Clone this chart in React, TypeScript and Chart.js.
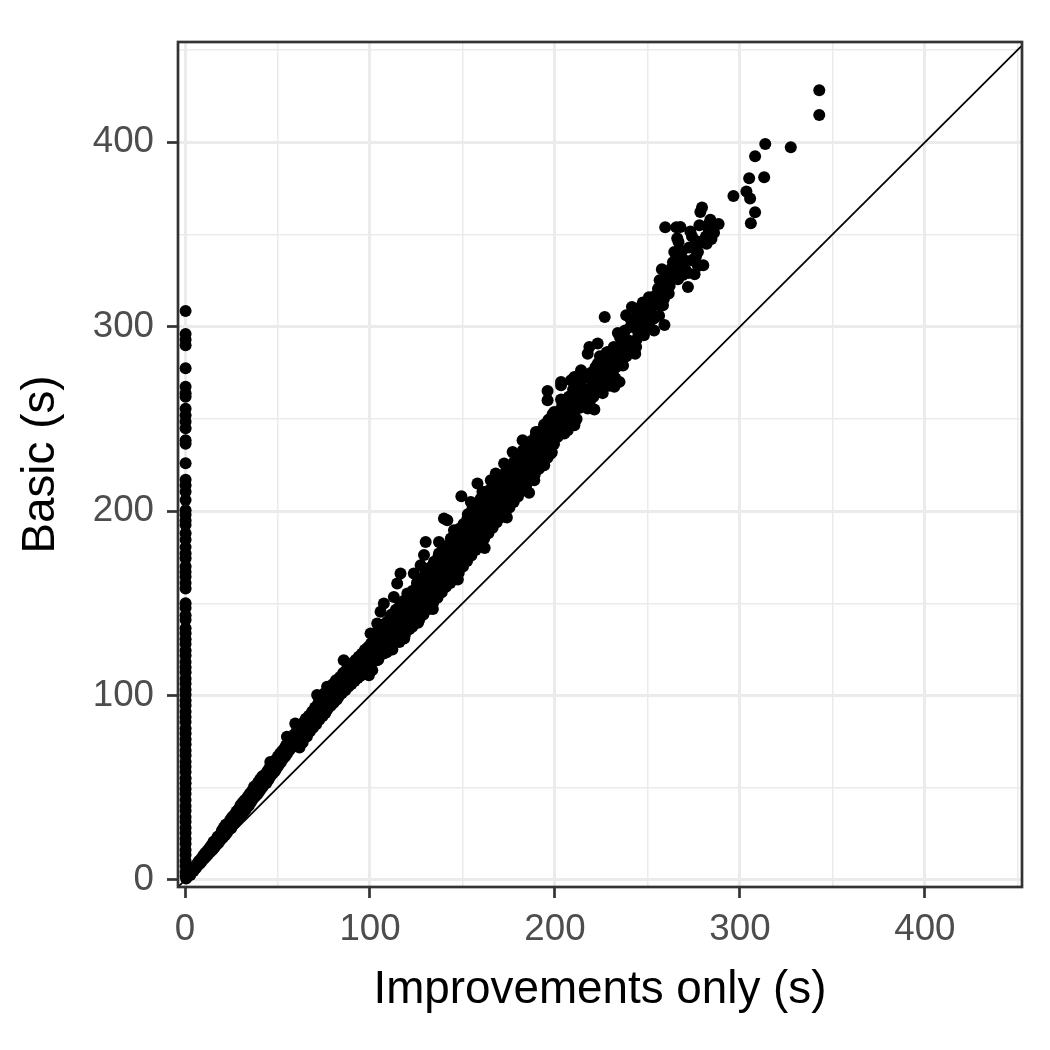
import React, { useEffect, useRef } from "react";
import { Chart, registerables } from "chart.js";

Chart.register(...registerables);

// Axis ranges and tick labels
const axisMin = -3.8;
const xAxisMax = 452.5;
const yAxisMax = 454.4;
const tickStep = 50;
const majorTicks = [0, 100, 200, 300, 400];

const xTitle = "Improvements only (s)";
const yTitle = "Basic (s)";

// Runs where the improved version took ~0 s (vertical strip at x = 0)
const zeroStripBasic = [
  308.5, 296, 293, 290, 277.5, 267.5, 264, 262, 255.5, 252, 248.5, 245, 238.5, 236.5, 226, 217, 214, 210.5,
  206, 200.5, 198, 195, 192.5, 188, 184.5, 180.5, 177, 174.5, 170, 167, 164.5, 161, 158, 150, 147.5, 143.5,
  141, 136.5, 133.8, 130.6, 127.9, 124.4, 121.7, 118.2, 115.3, 112.6, 109.1, 106.4, 103.2, 100.5, 97.3, 94.6,
  91.2, 88.4, 85.7, 82.1, 79.5, 76.3, 73.6, 70.2, 67.5, 64.1, 61.4, 58.6, 55.2, 52.5, 49.3, 46.7, 43.4, 40.1,
  37.5, 34.2, 31.6, 28.3, 25.5, 22.4, 19.7, 16.2, 13.5, 10.3, 7.6, 4.4, 2.1,
];
const zeroStripImproved = 0.3;

// [improvements only, basic] pairs – low part of the main band
const lowBand: [number, number][] = [
  [0.6, 0.8], [1.2, 1.9], [1.8, 2.6], [2.4, 3.8], [2.9, 2.7], [3.5, 4.9], [4.1, 5.8], [4.6, 4.9], [5.2, 7.1],
  [5.8, 6.3], [6.3, 8.6], [6.9, 7.8], [7.4, 10.2], [8.1, 8.9], [8.6, 11.4], [9.2, 10.3], [9.8, 13.1], [10.4, 11.6],
  [10.9, 14.6], [11.5, 12.9], [12.1, 15.9], [12.6, 14.1], [13.2, 17.4], [13.8, 15.3], [14.3, 18.8], [14.9, 16.4],
  [15.4, 20.7], [15.9, 17.6], [16.5, 21.6], [17.1, 19.1], [17.6, 23.4], [18.2, 20.2], [18.8, 24.1], [19.3, 21.8],
  [19.9, 26.7], [20.4, 22.9], [21.0, 28.4], [21.6, 24.2], [22.1, 30.1], [22.7, 25.6], [23.3, 29.2], [23.8, 27.4],
  [24.4, 32.6], [24.9, 28.1], [25.5, 34.1], [26.1, 30.2], [26.6, 35.3], [27.2, 31.4], [27.8, 37.1], [28.3, 32.9],
  [28.9, 38.4], [29.4, 34.6], [30.0, 40.6], [30.6, 35.3], [31.1, 41.9], [31.7, 36.8], [32.2, 43.2], [32.8, 38.2],
  [33.4, 40.9], [33.9, 45.1], [34.5, 40.3], [35.0, 46.8], [35.6, 42.1], [36.2, 48.3], [36.7, 43.9], [37.3, 50.5],
  [37.8, 45.2], [38.4, 51.2], [39.0, 46.4], [39.5, 52.9], [40.1, 47.8], [40.6, 54.6], [41.2, 49.5], [41.8, 56.3],
  [42.3, 50.9], [42.9, 53.8], [43.4, 57.4], [44.0, 52.6], [44.6, 59.1], [45.1, 54.3], [45.7, 60.8], [46.1, 64.0],
  [46.3, 56.4], [46.8, 61.9], [47.4, 57.7], [47.9, 63.6], [48.5, 59.0], [49.1, 65.2], [49.6, 60.7], [50.2, 66.9],
  [50.7, 62.3], [51.3, 68.4], [51.8, 63.9], [52.4, 69.8], [53.0, 65.7], [53.5, 71.1], [54.1, 67.0], [54.6, 72.9],
  [55.1, 77.7], [55.2, 68.6], [55.8, 74.1], [56.3, 70.4], [56.9, 75.6], [57.5, 71.7], [58.0, 77.3], [58.6, 73.5],
  [59.1, 78.9], [59.6, 84.9], [59.7, 74.8], [60.3, 80.6], [60.8, 76.4], [61.4, 82.1], [61.9, 71.8], [62.5, 83.7],
  [63.1, 79.3], [63.6, 74.6], [64.2, 85.5], [64.7, 81.0], [65.3, 87.4], [65.9, 77.8], [66.4, 83.2], [67.0, 89.1],
  [67.5, 80.5], [68.1, 85.7], [68.7, 91.3], [69.2, 82.6], [69.8, 88.1], [70.3, 93.6], [70.9, 84.4], [71.4, 100.3],
  [71.5, 90.2], [72.0, 95.7], [72.6, 86.9], [73.2, 92.4], [73.7, 98.1], [74.3, 88.8], [74.8, 94.6], [75.4, 101.2],
  [75.9, 90.6], [76.5, 96.9], [76.8, 104.8], [77.1, 92.7], [77.6, 99.2], [78.2, 103.4], [78.8, 94.5], [79.3, 100.8],
  [79.9, 106.2], [80.4, 96.1], [81.0, 102.5], [81.6, 108.3], [82.1, 97.9], [82.7, 104.7], [83.3, 99.8], [83.8, 110.1],
  [84.4, 106.3], [84.9, 101.4], [85.5, 112.2], [85.8, 119.2], [86.1, 108.0], [86.6, 102.9], [87.2, 113.9], [87.7, 109.6],
  [88.3, 104.8], [88.9, 115.4], [89.4, 111.2], [90.0, 106.3], [90.6, 117.6], [91.1, 112.9], [91.7, 107.9], [92.2, 119.3],
  [92.8, 114.6], [93.4, 109.5], [93.9, 121.0], [94.5, 116.2], [95.0, 110.8], [95.6, 122.7], [96.2, 118.1], [96.7, 112.6],
  [97.3, 124.8], [97.8, 119.8], [98.4, 114.2], [99.0, 126.3], [99.5, 121.4], [100.1, 115.7], [100.3, 133.7], [100.6, 128.2],
  [99.4, 111.0],
];

// Middle part of the band
const midBand: [number, number][] = [
  [101, 118], [101.8, 124.5], [102.6, 130.2], [103.4, 120.7], [104.1, 127.9], [104.9, 135.8], [105.6, 122.4],
  [106.4, 129.3], [107.2, 138.6], [107.9, 125.1], [108.7, 132.4], [109.4, 140.2], [110.2, 127.3], [110.9, 135.6],
  [111.7, 143.9], [112.5, 129.6], [113.2, 138.1], [114.0, 146.5], [114.8, 131.8], [115.5, 140.3], [116.3, 149.2],
  [117.0, 135.2], [117.8, 143.4], [118.6, 151.6], [119.3, 137.9], [120.1, 145.8], [120.9, 153.7], [121.6, 140.4],
  [122.4, 148.9], [123.1, 156.8], [123.9, 143.1], [124.7, 151.4], [125.4, 161.2], [126.2, 145.5], [127.0, 154.3],
  [127.7, 163.5], [128.5, 148.7], [129.2, 157.2], [130.0, 167.4], [130.8, 151.0], [131.5, 160.1], [132.3, 169.3],
  [133.1, 153.8], [133.8, 163.2], [134.6, 172.6], [135.3, 156.7], [136.1, 165.9], [136.9, 175.1], [137.6, 159.6],
  [138.4, 168.0], [139.2, 179.3], [139.9, 162.4], [140.7, 171.5], [141.4, 181.0], [142.2, 164.8], [143.0, 174.3],
  [143.7, 185.2], [144.5, 167.9], [145.3, 177.1], [146.0, 187.0], [146.8, 170.5], [147.5, 179.6], [148.3, 190.4],
  [149.1, 173.8], [149.8, 183.2], [150.6, 193.1], [151.4, 176.3], [152.1, 185.9], [152.9, 198.3], [153.6, 179.4],
  [154.4, 188.7], [155.2, 200.6], [155.9, 182.5], [156.7, 192.2], [157.5, 203.4], [158.2, 184.9], [159.0, 194.6],
  [159.8, 206.7], [160.5, 187.8], [161.3, 197.4], [162.0, 209.8], [162.8, 190.5], [163.6, 200.3], [164.3, 211.2],
  [165.1, 193.4], [165.9, 203.1], [166.6, 213.6], [167.4, 196.8], [168.1, 205.9], [168.9, 215.3], [169.7, 199.6],
  [170.4, 208.4], [171.2, 218.1], [172.0, 202.2], [172.7, 211.3], [173.5, 221.5], [174.3, 204.8], [175.0, 214.1],
  [175.8, 223.7], [176.5, 207.5], [177.3, 217.2], [178.1, 226.9], [178.8, 210.1], [179.6, 219.6], [180.4, 229.3],
  [181.1, 212.9], [181.9, 222.4], [182.7, 233.0], [183.4, 216.2], [184.2, 225.0], [184.9, 235.7], [185.7, 219.4],
  [186.5, 228.3], [187.2, 238.1], [188.0, 221.9], [188.8, 231.2], [189.5, 240.8], [190.3, 224.6], [191.1, 233.7],
  [191.8, 243.2], [192.6, 227.3], [193.3, 236.8], [194.1, 246.9], [194.9, 230.5], [195.6, 239.4], [196.4, 249.5],
  [197.2, 233.2], [197.9, 242.1], [198.7, 252.6], [199.5, 236.4], [200.2, 245.3],
  // individually visible edge points
  [210.5, 246.6], [205.1, 242.1], [194.2, 245.7], [189.7, 242.9], [182.5, 238.5], [177.1, 232.1], [183.4, 230.4],
  [190.6, 232.1], [197.8, 231.2], [188.8, 225.8], [194.2, 224.9], [172.5, 225.8], [168, 220.4], [179.8, 220.4],
  [188.8, 216.8], [182.5, 213.2], [165.3, 216.8], [158.1, 215], [160.8, 210.5], [170.7, 212.2], [176.2, 208.7],
  [149.4, 208.1], [154.5, 205], [161.7, 204.1], [167.1, 202.3], [171.6, 196.9], [163.5, 196.9], [140, 196],
  [141.8, 195.1], [152.7, 196], [145.4, 189.7], [150.8, 187.9], [154.5, 191.5], [159.9, 187.9], [156.3, 180.7],
  [152.7, 177], [143.6, 182.4], [137.3, 183.3], [130.1, 183.3], [129.2, 176.2], [137.3, 177], [140, 173.4],
  [145.4, 169.8], [136.4, 169.8], [127.4, 170.7], [123.7, 166.2], [116.5, 166.2], [129.2, 164.4], [134.6, 160.8],
  [137.3, 157.2], [131, 159], [125.6, 159.9], [114.7, 160.8], [120.2, 155.3], [125.6, 153.5], [130.1, 149.9],
  [112.9, 153.5], [107.5, 149.9], [116.5, 148.1], [123.7, 146.3], [105.7, 145.4], [111.1, 142.7], [122.9, 137.3],
  [116.5, 137.3], [103.9, 139.1], [109.3, 135.5], [102.1, 133.7], [105.7, 126.5], [102.1, 122.8], [107.5, 122.8],
  [103.9, 119.2], [101.2, 113.8],
  [118.5, 131], [126, 139.5], [134, 147], [147.5, 163], [162, 180], [174, 196.5], [186, 210],
];

// More runs inside the middle of the band
const midBandInner: [number, number][] = [
  [100.8, 121.5], [101.5, 127], [102.9, 125], [103.8, 131.5], [104.5, 119.5], [105.2, 132], [106.1, 125.5],
  [106.9, 134], [107.6, 129], [108.3, 137], [109.0, 123.5], [109.8, 131], [110.5, 139], [111.3, 132.5],
  [112.1, 125], [112.8, 141.5], [113.6, 134], [114.4, 143], [115.1, 136.5], [115.9, 129], [116.7, 145],
  [117.4, 138], [118.2, 147], [118.9, 133], [119.7, 141.5], [120.5, 150], [121.2, 136], [122.0, 144],
  [122.8, 152.5], [123.5, 140], [124.3, 147], [125.0, 157], [125.8, 149], [126.6, 141], [127.3, 159],
  [128.1, 151.5], [128.9, 144], [129.6, 161], [130.4, 154], [131.2, 164], [131.9, 147], [132.7, 157],
  [133.4, 166], [134.2, 150.5], [135.0, 169], [135.7, 160], [136.5, 153], [137.2, 172], [138.0, 163],
  [138.8, 156], [139.5, 175], [140.3, 166], [141.1, 159], [141.8, 177.5], [142.6, 168], [143.4, 161],
  [144.1, 180], [144.9, 172], [145.6, 164], [146.4, 183], [147.2, 175], [148.0, 166.5], [148.7, 186],
  [149.5, 178], [150.3, 170], [151.0, 189], [151.8, 181], [152.5, 173], [153.3, 192], [154.1, 184],
  [154.8, 176], [155.6, 196], [156.4, 187], [157.1, 179], [157.9, 199], [158.6, 190], [159.4, 182],
  [160.2, 201], [160.9, 193], [161.7, 185], [162.4, 204], [163.2, 196], [164.0, 188], [164.7, 207],
  [165.5, 199], [166.3, 191], [167.0, 210], [167.8, 202], [168.5, 194], [169.3, 212], [170.1, 204],
  [170.8, 197], [171.6, 215], [172.3, 207], [173.1, 199], [173.9, 217], [174.6, 210], [175.4, 202],
  [176.1, 220], [176.9, 213], [177.7, 205], [178.4, 223], [179.2, 216], [180.0, 208], [180.7, 226],
  [181.5, 219], [182.2, 211], [183.0, 229], [183.8, 221], [184.5, 214], [185.3, 232], [186.1, 224],
  [186.8, 217], [187.6, 235], [188.4, 227], [189.1, 220], [189.9, 237], [190.7, 230], [191.4, 223],
  [192.2, 240], [193.0, 233], [193.7, 226], [194.5, 243], [195.3, 236], [196.0, 229], [196.8, 246],
  [197.6, 239], [198.3, 232], [199.1, 249], [199.8, 242],
];

// Upper part of the band
const highBand: [number, number][] = [
  [279.5, 364.6], [278.6, 362.2], [308.2, 362.1], [305.9, 356.1], [259.6, 353.9], [265.6, 353.9], [267.8, 354.1],
  [273.2, 351.7], [283.1, 355.6], [288.5, 355.7], [283.1, 352.9], [284.6, 347.6], [266.8, 345.9], [276.6, 346.3],
  [277.3, 340.5], [264.5, 340.5], [268.8, 341.1], [257.8, 331.2], [262.9, 331.5], [265, 335.1], [267.4, 332.4],
  [280.2, 333.3], [277.3, 332.9], [271.9, 329.2], [275.5, 328.5], [256.6, 325.2], [260.2, 325.5], [266.5, 325.7],
  [271.9, 321.6], [262, 322.1], [255.7, 320.6], [253.8, 316.6], [258.4, 311.7], [247.5, 313.1], [252, 313.4],
  [241.6, 310.7], [238.5, 306.2], [226.9, 305.3], [244.8, 307.1], [250.6, 308.9], [253.5, 304.4], [259.2, 300.9],
  [247.5, 299], [248.1, 295.4], [240.8, 299.9], [234, 296.6], [236.3, 290.9], [243.9, 289], [243.4, 285.4],
  [223.1, 290.9], [218.6, 289], [228.6, 286.3], [231.3, 283.6], [235.8, 283.6], [227.6, 280.9], [234.9, 280],
  [217.7, 285.4], [223.1, 280], [224.9, 275.5], [231.3, 274.6], [234.9, 270.1], [232.1, 267.4], [226.7, 270.1],
  [220.4, 270.1], [214.1, 276.4], [210.5, 272.8], [208.7, 271], [203.3, 270.1], [203.3, 268.3], [196, 265.2],
  [210.5, 263.8], [215.9, 265.6], [220.4, 265.6], [212.3, 260.2], [221.3, 255.1], [217.7, 255.6], [203.3, 260.5],
  [205.1, 260.2], [196, 260.2], [199.6, 253.8], [205.1, 252.9], [210.5, 254.7], [210.5, 247.5], [206.9, 243.9],
  [199.6, 249.3], [192.4, 242.1], [201.5, 240.3], [194.2, 234.9],
  [201, 247], [203, 255], [206, 249], [207, 257], [209, 251], [211, 259], [213, 256], [214, 268], [216, 261],
  [218, 266], [219, 260], [222, 271], [224, 268], [225, 279], [227, 275], [229, 272], [230, 281], [233, 278],
  [237, 287], [239, 293], [241, 304], [242, 292], [245, 297], [246, 303], [249, 309], [251, 302], [254, 312],
  [257, 318], [262, 326], [269, 328], [270, 336], [274, 336], [279, 346], [282, 345], [286, 351],
];

// More runs inside the upper band
const highBandInner: [number, number][] = [
  [200.9, 251], [202.5, 244], [204, 258], [205.8, 246], [207.5, 262], [208.2, 255], [209.8, 266], [211.7, 250],
  [212.6, 263], [214.8, 257], [215.5, 272], [216.9, 266], [218.3, 259], [219.5, 275], [220.8, 262], [221.9, 278],
  [223.6, 270], [224.3, 284], [225.8, 264], [226.4, 277], [227.9, 286], [229.3, 268], [230.1, 277], [231.8, 289],
  [232.7, 272], [233.6, 285], [235.2, 294], [236.8, 279], [237.9, 298], [238.6, 284], [240.1, 292], [241.2, 288],
  [242.6, 301], [244.1, 293], [245.3, 310], [246.7, 298], [247.9, 305], [249.4, 300], [250.8, 316], [252.3, 307],
  [253.6, 298], [255.1, 312], [256.3, 306], [257.6, 322], [258.9, 315], [260.7, 330], [261.5, 318], [263.8, 335],
  [264.9, 327], [266.1, 348], [268.2, 337], [270.5, 331], [272.6, 343], [274.1, 349], [276.2, 338], [278.1, 355],
  [281.6, 349], [284, 358],
];

// Slowest runs at the top right
const topRuns: [number, number][] = [
  [342.9, 428.2], [342.9, 414.8], [313.7, 399.1], [327.5, 397.3], [308.2, 392.4], [305, 380.5], [313.1, 381],
  [303.5, 373.3], [305.5, 369.6], [296.5, 370.9],
];

const FONT = "'Liberation Sans', Arial, Helvetica, sans-serif";
const POINT_RADIUS = 6;

const panelBorder = {
  id: "panelBorder",
  afterDraw(chart: any) {
    const { ctx, chartArea } = chart;
    ctx.save();
    ctx.strokeStyle = "#333333";
    ctx.lineWidth = 2.7;
    ctx.strokeRect(chartArea.left, chartArea.top, chartArea.right - chartArea.left, chartArea.bottom - chartArea.top);
    ctx.restore();
  },
};

function isMajor(v: number) {
  return majorTicks.includes(v);
}

export default function App() {
  const ref = useRef<HTMLCanvasElement | null>(null);

  useEffect(() => {
    if (!ref.current) return;
    const points = [
      ...zeroStripBasic.map((y) => ({ x: zeroStripImproved, y })),
      ...lowBand.map(([x, y]) => ({ x, y })),
      ...midBand.map(([x, y]) => ({ x, y })),
      ...midBandInner.map(([x, y]) => ({ x, y })),
      ...highBand.map(([x, y]) => ({ x, y })),
      ...highBandInner.map(([x, y]) => ({ x, y })),
      ...topRuns.map(([x, y]) => ({ x, y })),
    ];
    const gridOpts = {
      color: "#ebebeb",
      lineWidth: (c: any) => (c.tick && isMajor(c.tick.value) ? 3 : 1.5),
      tickColor: (c: any) => (c.tick && isMajor(c.tick.value) ? "#333333" : "rgba(0,0,0,0)"),
      tickWidth: 2.7,
      tickLength: 11,
      drawTicks: true,
    };
    const chart = new Chart(ref.current, {
      type: "scatter",
      data: {
        datasets: [
          {
            type: "line",
            data: [
              { x: -20, y: -20 },
              { x: 480, y: 480 },
            ],
            borderColor: "#000000",
            borderWidth: 1.8,
            pointRadius: 0,
            pointHoverRadius: 0,
            fill: false,
            order: 0,
          } as any,
          {
            type: "scatter",
            data: points,
            backgroundColor: "#000000",
            borderColor: "#000000",
            borderWidth: 0,
            pointBackgroundColor: "#000000",
            pointBorderWidth: 0,
            pointRadius: POINT_RADIUS,
            pointHoverRadius: POINT_RADIUS,
            order: 1,
          } as any,
        ],
      },
      options: {
        responsive: false,
        animation: false,
        devicePixelRatio: 1,
        elements: { point: { radius: POINT_RADIUS, hoverRadius: POINT_RADIUS, borderWidth: 0 } },
        layout: { padding: { left: 0, right: 28, top: 42, bottom: 0 } },
        plugins: { legend: { display: false }, tooltip: { enabled: false } },
        scales: {
          x: {
            type: "linear",
            min: axisMin,
            max: xAxisMax,
            border: { display: false },
            grid: gridOpts as any,
            ticks: {
              stepSize: tickStep,
              includeBounds: false,
              autoSkip: false,
              maxRotation: 0,
              padding: 10,
              color: "#4d4d4d",
              font: { family: FONT, size: 36.7 },
              callback: (v: any) => (isMajor(Number(v)) ? String(v) : ""),
            },
            title: {
              display: true,
              text: xTitle,
              color: "#000000",
              font: { family: FONT, size: 45.8 },
              padding: { top: 0, bottom: 32 },
            },
            afterFit: (s: any) => {
              s.height = 163;
            },
          },
          y: {
            type: "linear",
            min: axisMin,
            max: yAxisMax,
            border: { display: false },
            grid: gridOpts as any,
            ticks: {
              stepSize: tickStep,
              includeBounds: false,
              autoSkip: false,
              padding: 13,
              color: "#4d4d4d",
              font: { family: FONT, size: 36.7 },
              callback: (v: any) => (isMajor(Number(v)) ? String(v) : ""),
            },
            title: {
              display: true,
              text: yTitle,
              color: "#000000",
              font: { family: FONT, size: 45.8 },
              padding: { top: 14, bottom: 0 },
            },
            afterFit: (s: any) => {
              s.width = 178;
            },
          },
        },
      },
      plugins: [panelBorder],
    });
    return () => chart.destroy();
  }, []);

  return (
    <div style={{ position: "fixed", left: 0, top: 0, width: 1050, height: 1050, background: "#ffffff" }}>
      <canvas ref={ref} width={1050} height={1050} style={{ width: 1050, height: 1050, display: "block" }} />
    </div>
  );
}
